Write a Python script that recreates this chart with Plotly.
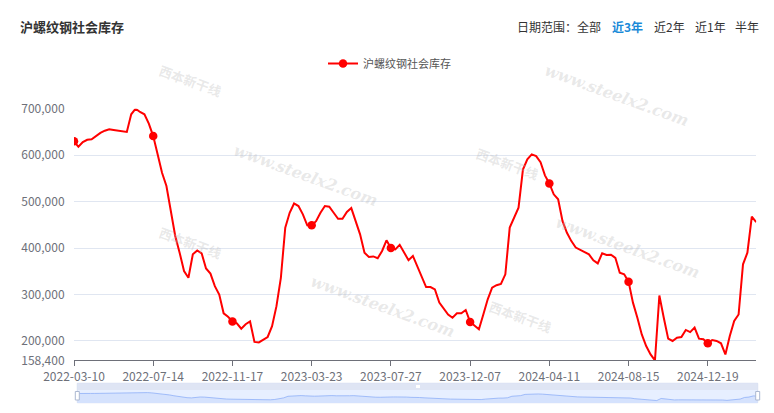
import pandas as pd
import plotly.graph_objects as go

# ---------------- data ----------------
title_text = "沪螺纹钢社会库存"
series_name = "沪螺纹钢社会库存"

_all_weeks = pd.date_range("2022-03-10", periods=157, freq="7D").strftime("%Y-%m-%d").tolist()
dates = [d for d in _all_weeks if d != "2023-10-05"]  # holiday week missing

inventory = [
    629700, 618000, 628000, 633000, 634000, 641000, 648000, 652700, 655500, 654000,
    653000, 652000, 650000, 688000, 700000, 693000, 688000, 668000, 641000, 602000,
    562000, 533600, 480000, 426000, 390000, 350600, 336000, 386500, 395000, 388700,
    356000, 345000, 318000, 300000, 259500, 252000, 242000, 238000, 226500, 236000,
    242000, 198000, 197000, 202000, 208600, 232000, 275000, 336000, 444000, 476000,
    496000, 490500, 472600, 449000, 449000, 458000, 476000, 490500, 489000, 476000,
    463000, 463000, 477600, 486000, 457000, 429600, 390000, 380800, 382000, 378000,
    393700, 416700, 400000, 397000, 407000, 391500, 374000, 383000, 361000, 340000,
    316000, 316000, 311000, 282500, 269600, 257000, 250000, 259500, 259500, 266700,
    241000, 234000, 225000, 257000, 289700, 314800, 320000, 323000, 343500, 444000,
    465000, 487000, 569000, 591000, 601700, 598000, 585000, 556500, 539000, 515700,
    505000, 458000, 433000, 415000, 401000, 396000, 391500, 386500, 373600, 367000,
    388700, 385000, 385800, 379000, 347000, 343500, 327700, 282500, 250000, 214000,
    189000, 171000, 158400, 298000, 250000, 205000, 200000, 207000, 208600, 223700,
    219000, 228700, 205000, 203600, 195000, 202000, 200000, 195000, 171000, 210800,
    243000, 257000, 365000, 390000, 467600, 456000,
]

x_tick_labels = ["2022-03-10", "2022-07-14", "2022-11-17", "2023-03-23", "2023-07-27",
                 "2023-12-07", "2024-04-11", "2024-08-15", "2024-12-19"]
y_tick_values = [158400, 200000, 300000, 400000, 500000, 600000, 700000]
range_options = ["全部", "近3年", "近2年", "近1年", "半年"]
active_range = "近3年"
watermark_url = "www.steelx2.com"
watermark_brand = "西本新干线"

# ---------------- geometry helpers (pixel -> paper) ----------------
W, H = 774, 413
ML, MR, MT, MB = 74, 14, 40, 10
PW, PH = W - ML - MR, H - MT - MB


def fx(px):
    return (px - ML) / PW


def fy(py):
    return (H - MB - py) / PH


FONT = "Noto Sans CJK SC, Microsoft YaHei, sans-serif"
AXIS_GREY = "#6E7079"
RED = "#ff0000"

# symbols are only shown on the labelled dates (others transparent)
marker_colors = [RED if d in x_tick_labels else "rgba(0,0,0,0)" for d in dates]

vmin, vmax = min(inventory), max(inventory)
pad = (vmax - vmin) * 0.3

fig = go.Figure()

# main series
fig.add_trace(go.Scatter(
    x=dates, y=inventory, name=series_name, mode="lines+markers",
    line=dict(color=RED, width=2),
    marker=dict(color=marker_colors, size=8.5, symbol="circle", line=dict(width=0)),
    xaxis="x", yaxis="y", showlegend=True,
))

# data-zoom slider shadow
fig.add_trace(go.Scatter(
    x=dates, y=inventory, mode="lines", fill="tozeroy",
    line=dict(color="#8FB0F7", width=0.8),
    fillcolor="#d5e2fd",
    xaxis="x2", yaxis="y2", showlegend=False, hoverinfo="skip",
))

fig.update_layout(
    width=W, height=H,
    margin=dict(l=ML, r=MR, t=MT, b=MB, pad=0, autoexpand=False),
    paper_bgcolor="white", plot_bgcolor="white",
    font=dict(family=FONT, size=12, color="#333"),
    showlegend=True,
    legend=dict(
        orientation="h", x=fx(323), y=fy(63.5), xanchor="left", yanchor="middle",
        font=dict(size=11, color="#555", family=FONT), itemwidth=30,
        bgcolor="rgba(0,0,0,0)",
    ),
    xaxis=dict(
        domain=[0, fx(756.2)], type="category", range=[0, len(dates) - 1],
        tickmode="array", tickvals=x_tick_labels, ticktext=x_tick_labels,
        ticks="outside", ticklen=5, tickcolor=AXIS_GREY, tickwidth=1,
        showline=True, linecolor=AXIS_GREY, linewidth=1,
        showgrid=False, zeroline=False, automargin=False,
        tickfont=dict(size=12, color=AXIS_GREY, family=FONT),
        anchor="y",
    ),
    yaxis=dict(
        domain=[fy(360.3), fy(108.7)], range=[vmin, vmax],
        tickmode="array", tickvals=y_tick_values, tickformat=",d",
        showgrid=True, gridcolor="#E0E6F1", gridwidth=1,
        showline=False, zeroline=False, automargin=False,
        ticks="outside", ticklen=6, tickcolor="rgba(0,0,0,0)",
        tickfont=dict(size=12, color=AXIS_GREY, family=FONT),
        anchor="x",
    ),
    xaxis2=dict(
        domain=[fx(77.3), fx(757.7)], type="category", range=[0, len(dates) - 1],
        showticklabels=False, ticks="", showgrid=False, zeroline=False, showline=False,
        automargin=False, anchor="y2",
    ),
    yaxis2=dict(
        domain=[0, fy(390)], range=[vmin - pad, vmax + pad],
        showticklabels=False, ticks="", showgrid=False, zeroline=False, showline=False,
        automargin=False, anchor="x2",
    ),
    hovermode=False,
)

shapes = []
# slider background (filler)
shapes.append(dict(type="rect", xref="paper", yref="paper",
                   x0=fx(77.3), x1=fx(757.7), y0=fy(402.7), y1=fy(383.3),
                   fillcolor="#e7efff", line=dict(color="#d2dbee", width=1), layer="below"))
# move-handle band at the top of the slider
shapes.append(dict(type="rect", xref="paper", yref="paper",
                   x0=fx(77.3), x1=fx(757.7), y0=fy(390), y1=fy(383.3),
                   fillcolor="#dfe5f4", line=dict(width=0), layer="below"))
# little grip on the move handle
shapes.append(dict(type="rect", xref="paper", yref="paper",
                   x0=fx(416), x1=fx(420), y0=fy(388), y1=fy(385),
                   fillcolor="#ffffff", line=dict(width=0), layer="above"))
# end handles
for hx in (77.3, 757.7):
    shapes.append(dict(type="rect", xref="paper", yref="paper",
                       x0=fx(hx - 2), x1=fx(hx + 2), y0=fy(400), y1=fy(391.5),
                       fillcolor="#ffffff", line=dict(color="#ACB8D1", width=1), layer="above"))
fig.update_layout(shapes=shapes)

annotations = []
# watermarks
for (cx, cy) in [(306, 175), (383, 306), (617, 95), (628, 247)]:
    annotations.append(dict(
        text=watermark_url, xref="paper", yref="paper", x=fx(cx), y=fy(cy),
        xanchor="center", yanchor="middle", showarrow=False, textangle=20,
        font=dict(family="DejaVu Serif", size=16, color="rgba(185,185,185,0.32)",
                  weight="bold", style="italic"),
    ))
for (cx, cy) in [(190, 80), (190, 242), (507, 163), (520, 316)]:
    annotations.append(dict(
        text=watermark_brand, xref="paper", yref="paper", x=fx(cx), y=fy(cy),
        xanchor="center", yanchor="middle", showarrow=False, textangle=20,
        font=dict(family=FONT, size=13, color="rgba(185,185,185,0.32)", weight="bold"),
    ))

# title
annotations.append(dict(
    text="<b>" + title_text + "</b>", xref="paper", yref="paper",
    x=fx(18), y=fy(27), xanchor="left", yanchor="middle", showarrow=False,
    font=dict(family=FONT, size=13, color="#333"),
))
# date range selector
annotations.append(dict(
    text="日期范围：", xref="paper", yref="paper", x=fx(515), y=fy(26),
    xanchor="left", yanchor="middle", showarrow=False,
    font=dict(family=FONT, size=12, color="#333"),
))
for label, lx in zip(range_options, [575, 610, 652, 693, 733]):
    is_active = label == active_range
    annotations.append(dict(
        text=("<b>" + label + "</b>") if is_active else label,
        xref="paper", yref="paper", x=fx(lx), y=fy(26),
        xanchor="left", yanchor="middle", showarrow=False,
        font=dict(family=FONT, size=12, color="#1a8ad8" if is_active else "#333"),
    ))
fig.update_layout(annotations=annotations)

fig.write_html(
    "out.html",
    config={"displayModeBar": False},
    post_script="document.body.style.margin='0';document.body.style.overflow='hidden';",
)
